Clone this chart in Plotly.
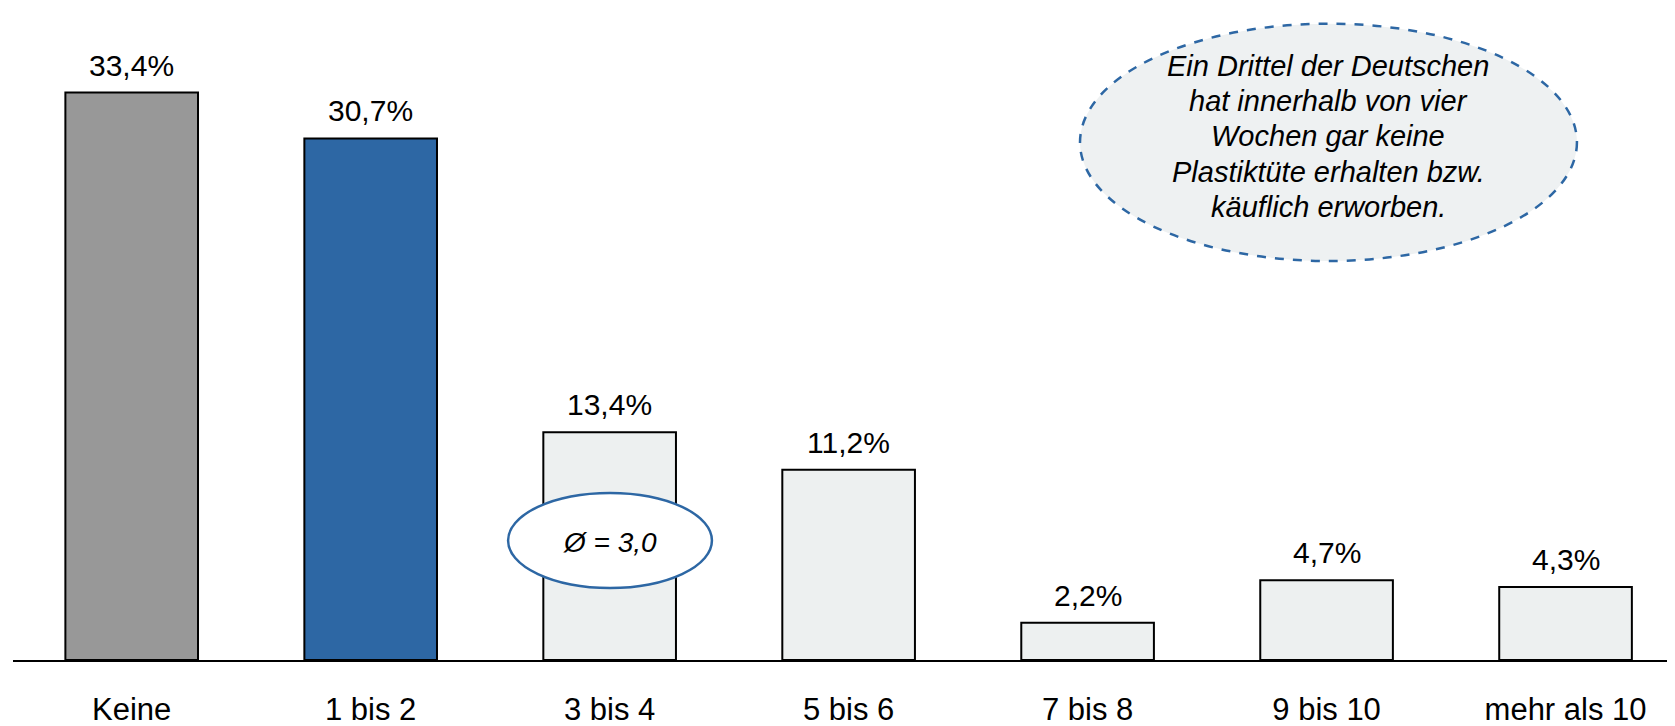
import plotly.graph_objects as go

categories = ["Keine", "1 bis 2", "3 bis 4", "5 bis 6", "7 bis 8", "9 bis 10", "mehr als 10"]
values = [33.4, 30.7, 13.4, 11.2, 2.2, 4.7, 4.3]
value_labels = ["33,4%", "30,7%", "13,4%", "11,2%", "2,2%", "4,7%", "4,3%"]
bar_colors = ["#989898", "#2D67A4", "#EDF0F0", "#EDF0F0", "#EDF0F0", "#EDF0F0", "#EDF0F0"]
avg_label = "Ø = 3,0"
callout_lines = ["Ein Drittel der Deutschen", "hat innerhalb von vier", "Wochen gar keine",
                 "Plastiktüte erhalten bzw.", "käuflich erworben."]

FONT = "Liberation Sans, Arial, sans-serif"
BLUE = "#2D67A4"

fig = go.Figure()
fig.add_trace(go.Bar(
    x=list(range(len(categories))), y=values,
    marker=dict(color=bar_colors, line=dict(color="#000000", width=2)),
    width=0.555, hoverinfo="skip", showlegend=False,
))

annotations = []
for i, (v, t) in enumerate(zip(values, value_labels)):
    annotations.append(dict(x=i, y=v, text=t, showarrow=False, yanchor="bottom",
                            yshift=9, font=dict(family=FONT, size=30, color="#000000")))

# Average ellipse around "3 bis 4"
fig.add_shape(type="circle", xref="x", yref="y", x0=1.575, x1=2.428, y0=4.24, y1=9.83,
              fillcolor="#FFFFFF", line=dict(color=BLUE, width=2.5), layer="above")
annotations.append(dict(x=2.0, y=6.9, text=f"<i>{avg_label}</i>", showarrow=False,
                        xanchor="center", yanchor="middle",
                        font=dict(family=FONT, size=28, color="#000000")))

# Callout ellipse
fig.add_shape(type="circle", xref="paper", yref="paper", x0=0.642, x1=0.941, y0=0.612, y1=0.976,
              fillcolor="#EEF1F2", line=dict(color=BLUE, width=2.5, dash="dash"), layer="above")
n = len(callout_lines)
for i, line in enumerate(callout_lines):
    annotations.append(dict(xref="paper", yref="paper", x=0.7915, y=0.803,
                            xanchor="center", yanchor="middle",
                            yshift=((n - 1) / 2 - i) * 35.2,
                            text=f"<i>{line}</i>", showarrow=False,
                            font=dict(family=FONT, size=29, color="#000000")))

fig.update_layout(
    width=1667, height=718,
    margin=dict(l=5, r=0, t=0, b=66),
    paper_bgcolor="#FFFFFF", plot_bgcolor="#FFFFFF",
    annotations=annotations,
    bargap=0.445,
    xaxis=dict(
        range=[-0.4967, 6.458],
        tickmode="array", tickvals=list(range(len(categories))), ticktext=categories,
        tickfont=dict(family=FONT, size=31, color="#000000"),
        showline=True, linecolor="#000000", linewidth=2,
        ticks="outside", ticklen=0, tickcolor="rgba(0,0,0,0)",
        ticklabelstandoff=21,
        showgrid=False, zeroline=False, fixedrange=True,
    ),
    yaxis=dict(range=[0, 38.38], visible=False, showgrid=False, zeroline=False, fixedrange=True),
)

fig.write_html("out.html")
